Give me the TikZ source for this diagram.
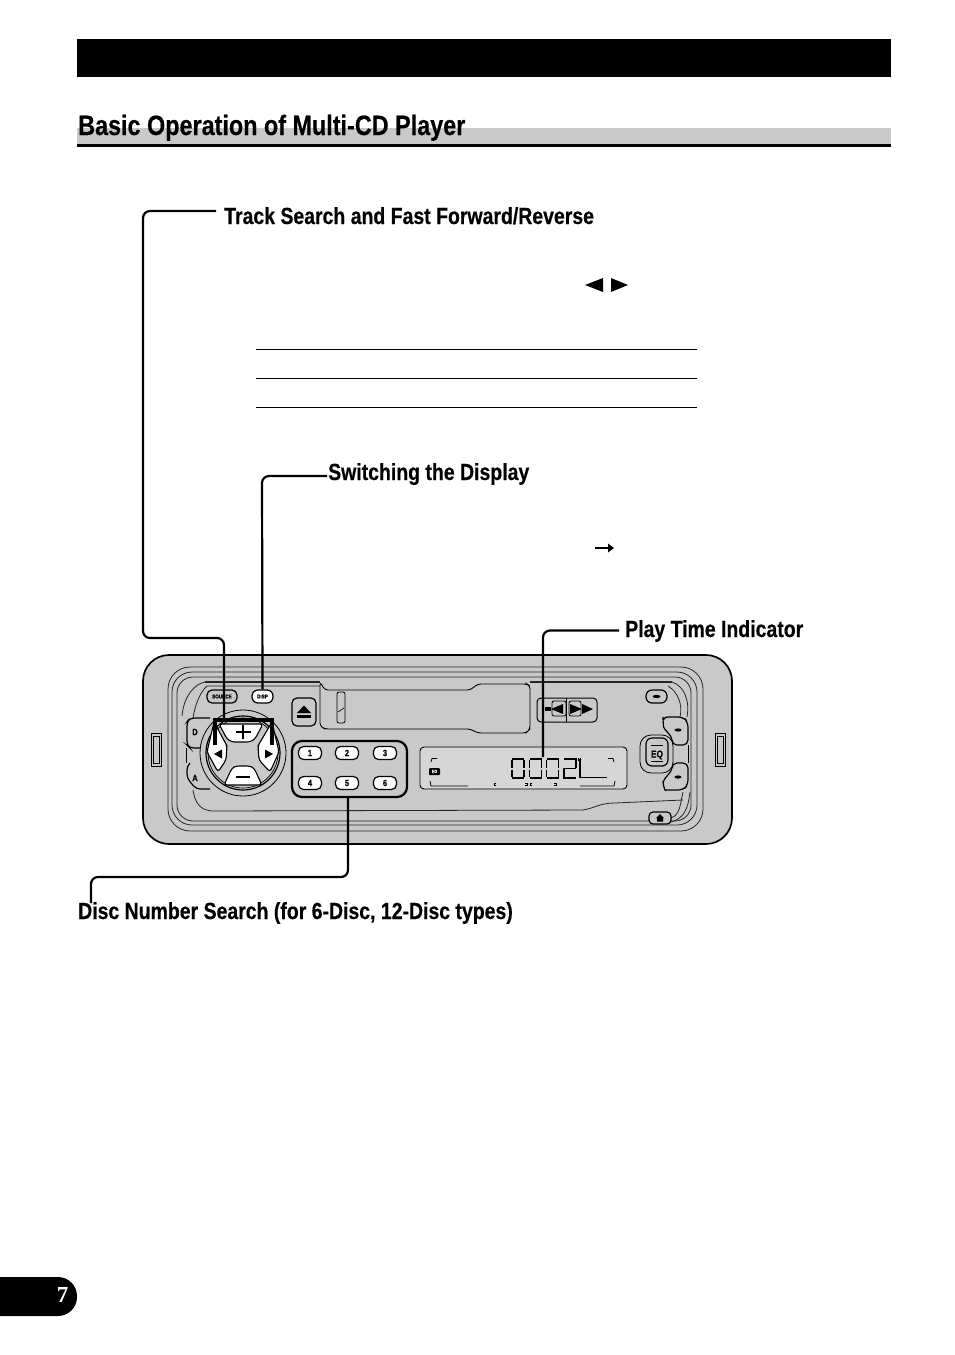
\documentclass[tikz,border=0pt]{standalone}
\usepackage{fontspec}
\setmainfont{Liberation Sans}[FakeStretch=0.835,BoldFeatures={FakeBold=0.35}]
\newfontfamily\numfont{Liberation Serif}
\usetikzlibrary{calc}
\definecolor{plate}{HTML}{C9C9C9}
\definecolor{lcd}{HTML}{D6D6D6}
\tikzset{
 label/.style={font=\bfseries\fontsize{23.3}{25}\selectfont,anchor=base west,inner sep=0pt,text=black},
 leader/.style={line width=2.2pt,rounded corners=7pt},
 contour/.style={line width=0.8pt,black!85},
 btn/.style={draw=black,line width=1.2pt,fill=white,rounded corners=5pt,minimum width=23pt,minimum height=13pt,inner sep=0pt,font=\bfseries\fontsize{9}{9}\selectfont},
 gbtn/.style={draw=black,line width=1.2pt,fill=plate,rounded corners=5pt,inner sep=0pt},
 tiny/.style={font=\bfseries\fontsize{5.5}{5.5}\selectfont,inner sep=0pt},
 seg/.style={line width=1.5pt,black},
 rule/.style={line width=0.8pt,black}
}
\begin{document}
\begin{tikzpicture}[x=1pt,y=-1pt]
\useasboundingbox (0,0) rectangle (954,1355);
\fill[white] (0,0) rectangle (954,1355);
% header
\fill[black] (77,39) rectangle (891,77);
\fill[plate] (77,128) rectangle (891,144);
\fill[black] (77,144) rectangle (891,147);
\node[label,font=\bfseries\fontsize{28}{30}\selectfont] (title) at (78,135) {Basic Operation of Multi-CD Player};
% labels
\node[label] (track) at (224,224) {Track Search and Fast Forward/Reverse};
\node[label] (switch) at (328,480) {Switching the Display};
\node[label] (play) at (625,637) {Play Time Indicator};
\node[label] (disc) at (78,919) {Disc Number Search (for 6-Disc, 12-Disc types)};
% table rules
\draw[rule] (256,349.5) -- (697,349.5);
\draw[rule] (256,378.5) -- (697,378.5);
\draw[rule] (256,407.5) -- (697,407.5);
% small symbols
\fill (603,278) -- (603,292) -- (585,285) -- cycle;
\fill (611,278) -- (611,292) -- (628,285) -- cycle;
\draw[line width=1.2pt] (595,548) -- (608,548);
\fill (608,543.5) -- (608,552.5) -- (614,548) -- cycle;
% face plate
\draw[line width=1.7pt,fill=plate,rounded corners=26pt] (143,655) rectangle (732,844);
% contours
\draw[contour,rounded corners=22pt] (168,667) rectangle (703,831);
\draw[contour,rounded corners=20pt] (172,672) rectangle (697,825);
\draw[contour,rounded corners=16pt] (177,677) -- (691,677) -- (691,821) -- (177,821) -- cycle;
\draw[contour,line width=1.2pt] (205,682) -- (320,682);
\draw[contour,line width=1.2pt] (530,682) -- (672,682);
\draw[contour] (182,716) .. controls (184,695) and (195,684) .. (205,682);
\draw[contour] (193,718) .. controls (195,705) and (200,692) .. (207,686) -- (320,686);
\draw[contour] (672,682) .. controls (684,686) and (690,700) .. (687,717);
\draw[contour] (668,686) .. controls (678,692) and (683,705) .. (680,717);
\draw[contour] (193,790) .. controls (195,803) and (200,810) .. (212,811) -- (583,810) .. controls (595,808) and (600,803) .. (615,803) -- (683,800);
\draw[contour] (683,792) .. controls (680,805) and (680,815) .. (671,818);
\draw[contour] (690,792) .. controls (688,808) and (685,818) .. (671,822);
% side clips
\draw[line width=0.9pt,fill=plate] (151,733) rectangle (161,766);
\draw[line width=0.6pt] (153,736) rectangle (159,763);
\draw[line width=0.9pt,fill=plate] (715,733) rectangle (725,766);
\draw[line width=0.6pt] (717,736) rectangle (723,763);
% cassette window
\draw[line width=0.9pt,rounded corners=3pt,fill=plate] (320,682) -- (320,726) -- (325,729) -- (470,729) -- (478,733) -- (526,733) -- (530,729) -- (530,686) -- (527,684) -- (478,684) -- (470,690) -- (325,690) -- cycle;
\draw[line width=0.8pt,rounded corners=2pt] (337,692) rectangle (345,723);
\draw[line width=0.6pt] (338,712) -- (344,708);
% buttons upper row
\node[gbtn,minimum width=30pt,minimum height=13pt,font=\bfseries\fontsize{5.5}{5.5}\selectfont] (source) at (222,696.5) {SOURCE};
\node[btn,minimum width=21pt,rounded corners=6pt,font=\bfseries\fontsize{5.5}{5.5}\selectfont] (disp) at (262.5,696.5) {DISP};
\node[gbtn,minimum width=24pt,minimum height=28pt] (eject) at (304,712) {};
\fill (304,705.5) -- (311,713) -- (297,713) -- cycle;
\fill (297,715) rectangle (311,718);
% side rocker buttons left
\draw[line width=1.2pt,fill=plate,rounded corners=4pt] (210,718) -- (190,718) -- (187,722) -- (187,745) -- (190,748) -- (205,748) ;
\draw[line width=0.8pt] (186,748) -- (186,763);
\draw[line width=1.2pt,fill=plate,rounded corners=4pt] (190,763) -- (187,766) -- (187,778) -- (196,789) -- (210,789);
\node[tiny,font=\bfseries\fontsize{9}{9}\selectfont] (dbtn) at (195,732) {D};
\node[tiny,font=\bfseries\fontsize{9}{9}\selectfont] (abtn) at (195,778) {A};
% dial
\coordinate (dial) at (243,753);
\draw[line width=0.8pt,fill=plate] (dial) circle (43);
\draw[line width=1.2pt,fill=plate] (dial) circle (37);
\draw[line width=0.7pt] (dial) circle (35);
\draw[line width=1.1pt,fill=white,rounded corners=3pt] (219,724) -- (263,724) -- (255,739) -- (250,742) -- (232,742) -- (227,739) -- cycle;
\draw[line width=1.1pt,fill=white,rounded corners=3pt] (224,785) -- (262,785) -- (254,768) -- (250,766) -- (236,766) -- (232,768) -- cycle;
\draw[line width=1.1pt,fill=white,rounded corners=3pt] (214,722) -- (207,752) -- (218,772) -- (226,760) -- (227,746) -- (226,744) -- cycle;
\draw[line width=1.1pt,fill=white,rounded corners=3pt] (272,722) -- (279,752) -- (270,772) -- (259,760) -- (258,746) -- (259,744) -- cycle;
\draw[line width=2pt] (235.5,731.5) -- (250.5,731.5) (243,724.5) -- (243,738.5);
\draw[line width=2pt] (236,777) -- (250,777);
\fill (214,754) -- (222,749.5) -- (222,758.5) -- cycle;
\fill (273,754) -- (265,749.5) -- (265,758.5) -- cycle;
% keypad
\node[draw=black,line width=2.2pt,fill=plate,rounded corners=10pt,minimum width=115pt,minimum height=56pt,inner sep=0pt] (keypad) at (349.5,769) {};
\node[btn] (k1) at (310,753) {1};
\node[btn] (k2) at (347,753) {2};
\node[btn] (k3) at (385,753) {3};
\node[btn] (k4) at (310,783) {4};
\node[btn] (k5) at (347,783) {5};
\node[btn] (k6) at (385,783) {6};
% transport buttons
\draw[line width=1pt,rounded corners=4pt,fill=plate] (537,698) rectangle (597,722);
\draw[line width=1pt] (566,698) -- (566,722);
\draw[line width=0.8pt,rounded corners=2pt] (552,701) rectangle (566,716);
\draw[line width=0.8pt,rounded corners=2pt] (569,701) rectangle (581,716);
\fill (563,704) -- (563,714) -- (551,709) -- cycle;
\fill (545,707) -- (551,707) -- (551,711) -- (545,711) -- cycle;
\fill (570,704) -- (570,714) -- (582,709) -- cycle;
\fill (582,704) -- (582,714) -- (593,709) -- cycle;
% right buttons
\node[btn,fill=plate,minimum width=21pt,rounded corners=6pt] (topr) at (656.5,696.5) {};
\fill (656.5,696.5) ellipse (4 and 1.6);
\draw[line width=1.2pt,fill=plate,rounded corners=5pt] (663,722) .. controls (665,718) and (668,717) .. (672,717) -- (683,717) -- (688,722) -- (688,745) -- (672,745) .. controls (672,735) and (664,730) .. (663,722) -- cycle;
\draw[line width=1.2pt,fill=plate,rounded corners=5pt] (663,786) .. controls (665,790) and (668,790) .. (672,790) -- (683,790) -- (688,785) -- (688,763) -- (672,763) .. controls (672,772) and (664,778) .. (663,786) -- cycle;
\draw[line width=0.8pt] (688,745) -- (688,763);
\fill (678,730) ellipse (3.5 and 1.6);
\fill (678,777) ellipse (3.5 and 1.6);
\node[gbtn,minimum width=33pt,minimum height=38pt,rounded corners=11pt,line width=0.8pt] (eqo) at (656.5,754) {};
\node[gbtn,minimum width=22pt,minimum height=28pt,rounded corners=6pt] (eq) at (657,752) {};
\node[tiny,font=\bfseries\fontsize{10}{10}\selectfont] at (657,755) {EQ};
\draw[line width=1pt] (651,745) -- (663,745) (651,761) -- (663,761);
\node[btn,fill=plate,minimum width=22pt,minimum height=12pt,rounded corners=4pt] (home) at (660,818) {};
\fill (660,814) -- (664,818) -- (663,818) -- (663,821.5) -- (657,821.5) -- (657,818) -- (656,818) -- cycle;
% display
\node[draw=black,line width=0.9pt,fill=lcd,rounded corners=4pt,minimum width=207pt,minimum height=42pt,inner sep=0pt] (display) at (523.5,768) {};
\foreach \xx in {512,529.5,546.5}{
 \draw[seg] (\xx,759) -- (\xx+12,759);
 \draw[seg] (\xx,778) -- (\xx+12,778);
 \draw[seg] (\xx,760) -- (\xx,767.5) (\xx,769.5) -- (\xx,777);
 \draw[seg] (\xx+12,760) -- (\xx+12,767.5) (\xx+12,769.5) -- (\xx+12,777);
}
\draw[seg] (564,759) -- (576,759) -- (576,767.5) (575.5,768.5) -- (564,768.5) -- (564,778) -- (576,778);
\draw[line width=0.8pt] (578,758) -- (578,761) (580,758) -- (580,761);
\draw[line width=1.1pt] (580,759) -- (580,777.5) -- (607,777.5);
\fill[rounded corners=1pt] (429,768) rectangle (440,775);
\node[font=\bfseries\fontsize{4.5}{4.5}\selectfont,text=white,inner sep=0pt] at (434.5,771.5) {EO};
\draw[line width=0.8pt] (431,762) -- (432,758.5) -- (437,758.5);
\draw[line width=0.8pt] (614,762) -- (613,758.5) -- (608,758.5);
\draw[line width=0.8pt] (430,781) -- (431,786) -- (468,786);
\draw[line width=0.8pt] (615,781) -- (614,786) -- (580,786);
\draw[line width=0.7pt] (496,783) -- (494,783) -- (494,785) -- (496,785);
\draw[line width=0.7pt] (525,783) -- (527,783) -- (527,785) -- (525,785);
\draw[line width=0.7pt] (532,783) -- (530,783) -- (530,785) -- (532,785);
\draw[line width=0.7pt] (554,783) -- (556,783) -- (556,785) -- (554,785);
% leaders
\coordinate (l1a) at (216,211);
\coordinate (brl) at (215,745);
\coordinate (brr) at (272,745);
\draw[line width=3.2pt] (brl) -- (215,720) -- (272,720) -- (brr);
\coordinate (l1b) at (224,720);
\draw[leader] (l1a) -- (143,211) -- (143,638) -- (224,638) -- (l1b);
\coordinate (l2a) at (327,476);
\draw[leader] (l2a) -- (262,476) -- (disp.north);
\coordinate (lcdpt) at (543,757);
\draw[leader] (619,630.5) -- (543,630.5) -- (lcdpt);
\coordinate (l4) at (91,903);
\coordinate (l4b) at (348,797);
\draw[leader] (l4b) -- (348,877) -- (91,877) -- (l4);
% page tab
\fill[rounded corners=19pt] (-30,1277) rectangle (77,1316);
\node[font=\numfont\bfseries\fontsize{23}{23}\selectfont,text=white,inner sep=0pt] (page) at (62.5,1295) {7};
\end{tikzpicture}
\end{document}
